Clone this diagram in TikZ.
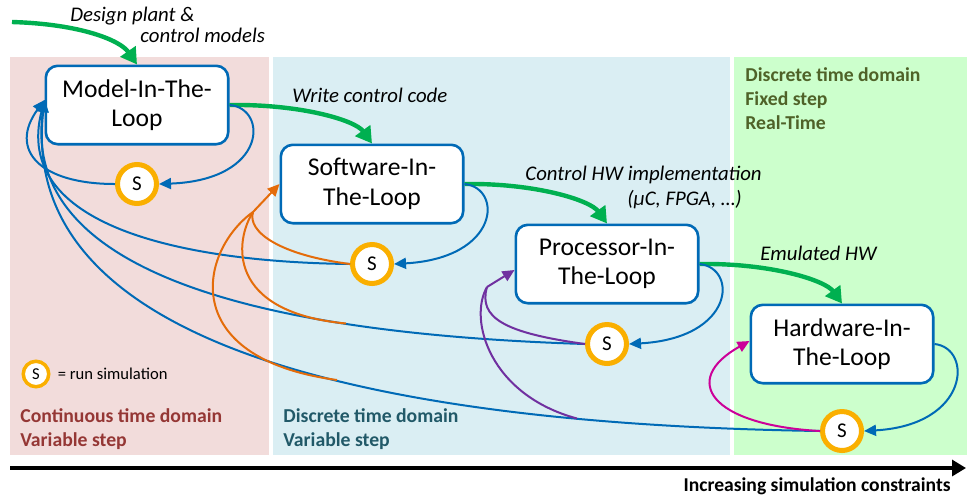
\documentclass[tikz,border=0pt]{standalone}
\usepackage{fontspec}
\setmainfont{Carlito}
\usetikzlibrary{arrows.meta}
\definecolor{contfill}{RGB}{242,220,219}
\definecolor{discfill}{RGB}{218,238,243}
\definecolor{rtfill}{RGB}{204,255,204}
\definecolor{loopblue}{RGB}{0,106,182}
\definecolor{flowgreen}{RGB}{0,176,80}
\definecolor{simring}{RGB}{250,175,0}
\definecolor{siloran}{RGB}{228,108,10}
\definecolor{pilpurp}{RGB}{112,48,160}
\definecolor{hilmag}{RGB}{204,0,153}
\definecolor{conttxt}{RGB}{149,55,53}
\definecolor{disctxt}{RGB}{33,89,104}
\definecolor{rttxt}{RGB}{79,98,40}

\begin{document}
\begin{tikzpicture}[x=0.5pt, y=0.5pt,
        loopbox/.style={draw=loopblue, line width=1.3pt, rounded corners=6pt,
            fill=white, minimum width=91.2pt, minimum height=39.2pt,
            align=center, font=\fontsize{12.8}{14.8}\selectfont},
        sim/.style={circle, draw=simring, line width=2.5pt, fill=white,
            minimum size=19.5pt, inner sep=0pt, font=\fontsize{10.5}{12}\selectfont},
        flow/.style={draw=flowgreen, line width=2.2pt,
            -{Triangle[length=8pt,width=9pt]}},
        fb/.style={draw=loopblue, line width=1pt,
            -{Triangle[length=6pt,width=5.5pt]}},
        fbline/.style={draw=#1, line width=1pt},
        fbtip/.style={draw=#1, line width=1pt, -{Triangle[length=6pt,width=5.5pt]}},
        note/.style={font=\fontsize{10.4}{12}\selectfont\itshape, inner sep=0pt},
        domlbl/.style={font=\fontsize{9.85}{12}\selectfont\bfseries, align=left, inner sep=0pt}
    ]
    \useasboundingbox (0,0) rectangle (967,-494);

    % time domains
    \fill[contfill] (10,-57) rectangle (269,-455);
    \fill[discfill] (273,-57) rectangle (730,-455);
    \fill[rtfill] (734,-57) rectangle (967,-455);

    \node[domlbl, text=conttxt, anchor=north west] (cont) at (20,-408)
        {Continuous time domain\\Variable step};
    \node[domlbl, text=disctxt, anchor=north west] (disc) at (283,-408)
        {Discrete time domain\\Variable step};
    \node[domlbl, text=rttxt, anchor=north west] (rt) at (745,-67)
        {Discrete time domain\\Fixed step\\Real-Time};

    % loops
    \node[loopbox] (MIL) at (137,-105) {Model-In-The-\\Loop};
    \node[loopbox] (SIL) at (372,-184) {Software-In-\\The-Loop};
    \node[loopbox] (PIL) at (607,-264) {Processor-In-\\The-Loop};
    \node[loopbox] (HIL) at (842,-344) {Hardware-In-\\The-Loop};

    \node[sim] (S1) at (137,-184) {S};
    \node[sim] (S2) at (372,-264) {S};
    \node[sim] (S3) at (607,-344) {S};
    \node[sim] (S4) at (842,-431) {S};

    % legend
    \node[sim, line width=1.75pt, minimum size=12.75pt, font=\fontsize{8.3}{10}\selectfont]
        (SL) at (36,-374) {S};
    \node[anchor=west, inner sep=0pt, font=\fontsize{8.3}{10}\selectfont] (SLtxt)
        at ([xshift=3.5pt]SL.east) {= run simulation};

    % design flow
    \coordinate (start) at (12,-22);
    \draw[flow] (start) .. controls (80,-24) and (120,-40) .. (MIL.north);
    \draw[flow] (MIL.east) .. controls (300,-104) and (355,-120) .. (SIL.north);
    \draw[flow] (SIL.east) .. controls (535,-183) and (590,-200) .. (PIL.north);
    \draw[flow] (PIL.east) .. controls (770,-263) and (825,-280) .. (HIL.north);

    \node[note, anchor=west] (lblA) at (70,-16) {Design plant \&};
    \node[note, anchor=west] (lblB) at (140,-35) {control models};
    \node[note, anchor=west] (lblC) at (292,-95) {Write control code};
    \node[note, anchor=west] (lblD) at (525,-175) {Control HW implementation};
    \node[note, anchor=west] (lblE) at (627,-200) {(µC, FPGA, …)};
    \node[note, anchor=west] (lblF) at (760,-253) {Emulated HW};

    % each loop runs its own simulation
    \draw[fb] (MIL.east) .. controls (268,-108) and (268,-180) .. (S1.east);
    \draw[fb] (SIL.east) .. controls (503,-188) and (500,-258) .. (S2.east);
    \draw[fb] (PIL.east) .. controls (738,-268) and (735,-338) .. (S3.east);
    \draw[fb] (HIL.east) .. controls (973,-348) and (970,-425) .. (S4.east);

    % results back to the model
    \coordinate (milin) at ([yshift=2.5pt]MIL.west);
    \draw[fb] (S1.west) .. controls (40,-184) and (8,-150) .. (milin);
    \draw[fb] (S2.west) .. controls (180,-262) and (12,-225) .. (milin);
    \draw[fb] (S3.west) .. controls (300,-335) and (18,-285) .. (milin);
    \draw[fb] (S4.west) .. controls (420,-425) and (15,-360) .. (milin);

    % results back to the software
    \coordinate (oS3) at (346,-323.5);
    \coordinate (oS4) at (337,-380);
    \coordinate (ojoin) at (253,-212);
    \draw[fbline=siloran] (S2.west) .. controls (280,-255) and (247,-232) .. (ojoin);
    \draw[fbline=siloran] (oS3) .. controls (225,-312) and (235,-240) .. (ojoin);
    \draw[fbline=siloran] (oS4) .. controls (175,-358) and (200,-250) .. (ojoin);
    \draw[fbtip=siloran] (ojoin) -- (SIL.west);

    % results back to the processor
    \coordinate (pS4) at (577,-418.5);
    \coordinate (pjoin) at (487,-287);
    \draw[fbline=pilpurp] (S3.west) .. controls (505,-333) and (478,-318) .. (pjoin);
    \draw[fbline=pilpurp] (pS4) .. controls (490,-395) and (468,-320) .. (pjoin);
    \draw[fbtip=pilpurp] (pjoin) -- ([yshift=-3pt]PIL.west);

    % emulated hardware
    \draw[fbtip=hilmag] (S4.west) .. controls (710,-425) and (680,-380) .. ([yshift=1.5pt]HIL.west);

    % constraints axis
    \coordinate (ax0) at (10,-468);
    \coordinate (ax1) at (966,-468);
    \draw[line width=1.6pt, -{Triangle[length=7pt,width=8pt]}] (ax0) -- (ax1);
    \node[font=\fontsize{9.8}{12}\selectfont\bfseries, anchor=north east, inner sep=0pt]
        (axlbl) at (951,-477) {Increasing simulation constraints};
\end{tikzpicture}
\end{document}
